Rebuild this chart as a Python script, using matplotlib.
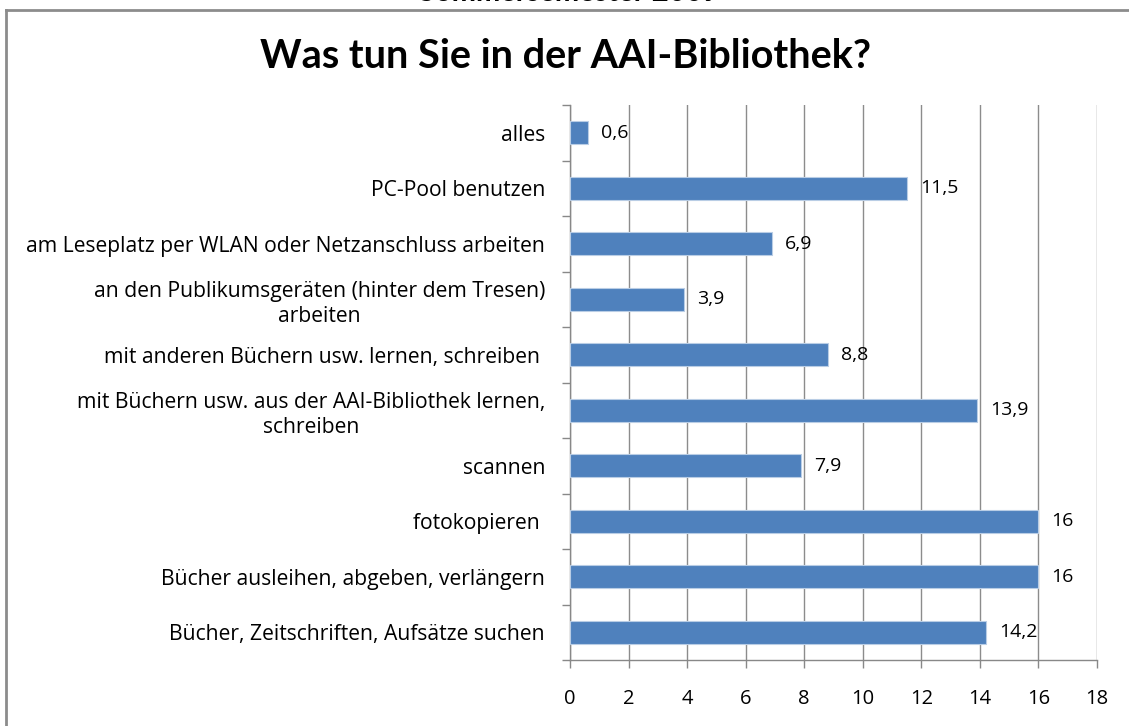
import matplotlib
matplotlib.use("Agg")
import matplotlib.pyplot as plt
from matplotlib.lines import Line2D

plt.rcParams['font.family'] = ['Open Sans', 'DejaVu Sans']

categories = [
    "alles",
    "PC-Pool benutzen",
    "am Leseplatz per WLAN oder Netzanschluss arbeiten",
    "an den Publikumsgeräten (hinter dem Tresen)\narbeiten",
    "mit anderen Büchern usw. lernen, schreiben ",
    "mit Büchern usw. aus der AAI-Bibliothek lernen,\nschreiben",
    "scannen",
    "fotokopieren ",
    "Bücher ausleihen, abgeben, verlängern",
    "Bücher, Zeitschriften, Aufsätze suchen",
]
values = [0.6, 11.5, 6.9, 3.9, 8.8, 13.9, 7.9, 16, 16, 14.2]
value_labels = ["0,6", "11,5", "6,9", "3,9", "8,8", "13,9", "7,9", "16", "16", "14,2"]
x_ticks = [0, 2, 4, 6, 8, 10, 12, 14, 16, 18]

W, H = 1129, 726
fig = plt.figure(figsize=(W / 100, H / 100), dpi=100)
ax = fig.add_axes([570 / W, 1 - 660 / H, 527 / W, 555 / H])

n = len(categories)
ypos = list(range(n))
ax.barh(ypos, values, height=0.42, color="#4F81BD", edgecolor="#B9CDE5", linewidth=0.8, zorder=3)
for y, v, lab in zip(ypos, values, value_labels):
    ax.annotate(lab, (v, y), xytext=(9.5, 0), textcoords="offset points",
                va="center", ha="left", fontsize=14, color="#000000", zorder=4)

ax.set_ylim(n - 0.5, -0.5)
ax.set_xlim(0, 18)
ax.set_xticks(x_ticks)
ax.set_xticklabels([str(t) for t in x_ticks], fontsize=14.5)
ax.set_yticks(ypos)
ax.set_yticklabels(categories, fontsize=15.2, multialignment="center", linespacing=1.25)
ax.set_yticks([i - 0.5 for i in range(n + 1)], minor=True)
ax.tick_params(axis="y", which="major", length=0, pad=18)
ax.tick_params(axis="y", which="minor", length=6, color="#888888", width=1)
ax.tick_params(axis="x", length=6, color="#888888", width=1, pad=15)

ax.grid(axis="x", color="#8C8C8C", linewidth=1, zorder=0)
for s in ["top", "right"]:
    ax.spines[s].set_visible(False)
for s in ["left", "bottom"]:
    ax.spines[s].set_color("#888888")
    ax.spines[s].set_linewidth(1)

fig.text(566 / W, 1 - 57 / H, "Was tun Sie in der AAI-Bibliothek?", ha="center", va="center",
         fontsize=28.5, fontweight="bold", family=["Lato", "DejaVu Sans"])
# only the bottom edge of this line is visible in the original
fig.text(569 / W, 1 - 1 / H, "Sommersemester 2009", ha="center", va="baseline",
         fontsize=21, fontweight="bold", family=["Lato", "DejaVu Sans"])

fig.add_artist(Line2D([6 / W, 6 / W], [0, 1 - 10 / H], transform=fig.transFigure,
                      color="#8C8C8C", linewidth=2))
fig.add_artist(Line2D([6 / W, 1], [1 - 10 / H, 1 - 10 / H], transform=fig.transFigure,
                      color="#8C8C8C", linewidth=2))

fig.savefig("out.png", dpi=100)
